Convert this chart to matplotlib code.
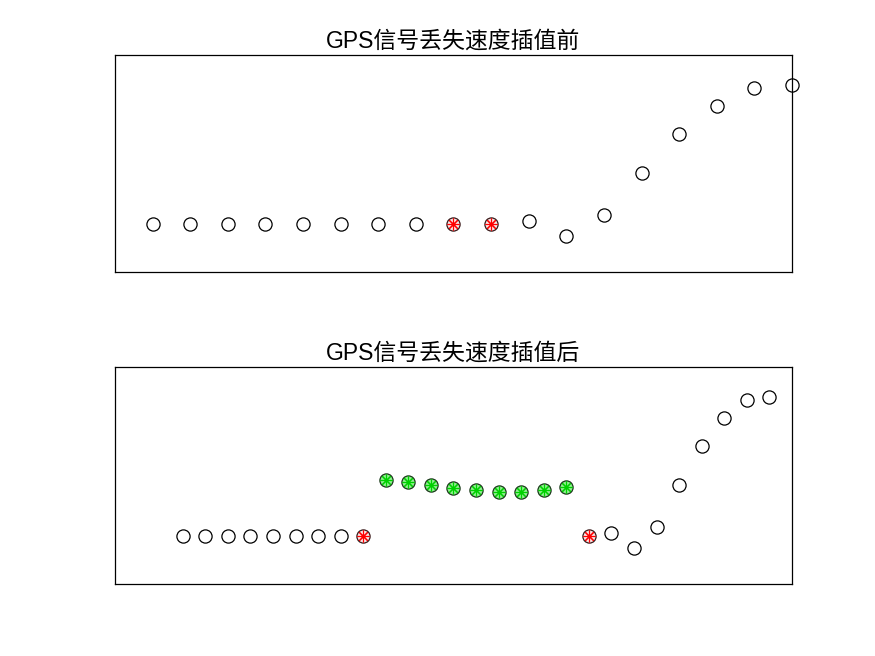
import numpy as np
import matplotlib
matplotlib.use('Agg')
import matplotlib.pyplot as plt

plt.rcParams['font.family'] = ['Liberation Sans', 'Noto Sans CJK SC', 'DejaVu Sans']

# 插值前：GPS速度（丢失点为红色）
x_before = np.arange(1, 19)
v_before = [2.23, 2.23, 2.23, 2.23, 2.23, 2.23, 2.23, 2.23, 2.23, 2.23,
            2.37, 1.66, 2.64, 4.58, 6.38, 7.65, 8.47, 8.63]
lost_idx = [8, 9]

# 插值后
x_after = np.arange(3, 30)
v_after = [2.23, 2.23, 2.23, 2.23, 2.23, 2.23, 2.23, 2.23,
           2.23,
           4.79, 4.69, 4.56, 4.43, 4.32, 4.23, 4.23, 4.32, 4.49,
           2.23,
           2.37, 1.66, 2.64, 4.58, 6.38, 7.65, 8.47, 8.63]
red_idx = [8, 18]
green_idx = list(range(9, 18))

titles = ['GPS信号丢失速度插值前', 'GPS信号丢失速度插值后']

fig = plt.figure(figsize=(8.75, 6.56), dpi=100)
ax1 = fig.add_axes([0.1314, 0.5854, 0.7737, 0.3308])
ax2 = fig.add_axes([0.1314, 0.1098, 0.7737, 0.3308])

ms = 9.5
star = (8, 2, 0)  # 类似MATLAB的'*'


def draw(ax, x, v, red, green, xmax, title):
    x = np.asarray(x)
    v = np.asarray(v)
    normal = [i for i in range(len(x)) if i not in red and i not in green]
    ax.plot(x[normal], v[normal], 'o', color='k', mfc='none', ms=ms, mew=0.9, clip_on=False)
    if green:
        ax.plot(x[green], v[green], 'o', mec='#1a3a1a', mfc='#8ef08e', ms=ms, mew=0.9, clip_on=False)
        ax.plot(x[green], v[green], ls='none', marker=star, color='#00d000', ms=ms - 1, mew=0.8, clip_on=False)
    ax.plot(x[red], v[red], 'o', mec='#3a1a1a', mfc='#fbe3e3', ms=ms, mew=0.9, clip_on=False)
    ax.plot(x[red], v[red], ls='none', marker=star, color='#ff0000', ms=ms - 1, mew=0.8, clip_on=False)
    ax.set_xlim(0, xmax)
    ax.set_ylim(0, 10)
    ax.set_xticks([])
    ax.set_yticks([])
    for s in ax.spines.values():
        s.set_linewidth(0.9)
    ax.set_title(title, fontsize=16.5, pad=5)


draw(ax1, x_before, v_before, lost_idx, [], 18, titles[0])
draw(ax2, x_after, v_after, red_idx, green_idx, 30, titles[1])

plt.savefig('out.png', dpi=100)
plt.close()
